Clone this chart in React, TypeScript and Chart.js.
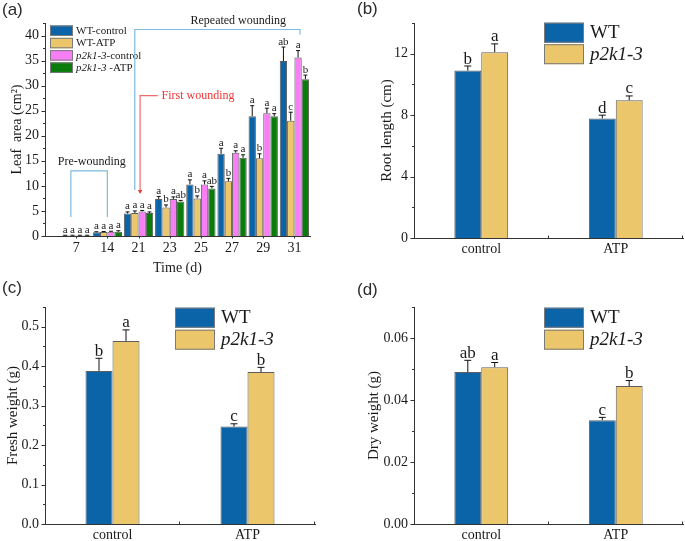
import React, { useEffect, useRef } from 'react';
import { Chart, registerables } from 'chart.js';

Chart.register(...registerables);

const W = 685;
const H = 541;
const SERIF = '"Liberation Serif", "Times New Roman", serif';
const SANS = '"Liberation Sans", Arial, sans-serif';
const INK = '#1a1a1a';
const AXIS = '#333333';
const EDGE = '#5e5e5e';
const BLUE = '#0b63a8';
const YELLOW = '#ecc66a';
const PINK = '#f77ef5';
const GREEN = '#0a7c0c';
const BRACKET = '#7dbbe0';
const RED = '#ee3636';

// ---- Panel (a): leaf area over time
const days = ['7', '14', '21', '23', '25', '27', '29', '31'];
const namesA = ['WT-control', 'WT-ATP', 'p2k1-3-control', 'p2k1-3 -ATP'];
const wtControlArea = [0.1, 0.75, 4.5, 7.4, 10.3, 16.4, 23.9, 34.9];
const wtControlAreaErr = [0.05, 0.1, 0.3, 0.5, 0.9, 1.1, 2.1, 2.8];
const wtControlAreaSig = ['a', 'a', 'a', 'a', 'a', 'a', 'a', 'ab'];
const wtAtpArea = [0.1, 0.8, 4.6, 5.7, 7.5, 10.9, 15.5, 23.0];
const wtAtpAreaErr = [0.05, 0.1, 0.4, 0.5, 0.5, 0.6, 0.9, 1.7];
const wtAtpAreaSig = ['a', 'a', 'a', 'b', 'b', 'b', 'b', 'c'];
const p2ControlArea = [0.1, 0.85, 4.9, 7.4, 10.3, 16.6, 24.5, 35.6];
const p2ControlAreaErr = [0.05, 0.1, 0.2, 0.4, 0.7, 0.4, 1.0, 1.4];
const p2ControlAreaSig = ['a', 'a', 'a', 'a', 'a', 'a', 'a', 'a'];
const p2AtpArea = [0.1, 0.85, 4.6, 6.9, 9.5, 15.6, 23.9, 31.3];
const p2AtpAreaErr = [0.05, 0.2, 0.2, 0.2, 0.4, 0.6, 0.5, 0.8];
const p2AtpAreaSig = ['a', 'a', 'a', 'ab', 'ab', 'a', 'a', 'b'];
const yTicksA = [0, 5, 10, 15, 20, 25, 30, 35, 40];

// ---- Panels (b)-(d)
const treatments = ['control', 'ATP'];
const namesGeno = ['WT', 'p2k1-3'];

const rootWT = [10.9, 7.78];
const rootWTErr = [0.3, 0.22];
const rootWTSig = ['b', 'd'];
const rootP2 = [12.1, 8.97];
const rootP2Err = [0.54, 0.28];
const rootP2Sig = ['a', 'c'];
const yTicksB = [0, 4, 8, 12];

const freshWT = [0.388, 0.247];
const freshWTErr = [0.032, 0.007];
const freshWTSig = ['b', 'c'];
const freshP2 = [0.464, 0.385];
const freshP2Err = [0.028, 0.012];
const freshP2Sig = ['a', 'b'];
const yTicksC = [0, 0.1, 0.2, 0.3, 0.4, 0.5];

const dryWT = [0.049, 0.0335];
const dryWTErr = [0.0038, 0.0009];
const dryWTSig = ['ab', 'c'];
const dryP2 = [0.0506, 0.0445];
const dryP2Err = [0.0015, 0.0018];
const dryP2Sig = ['a', 'b'];
const yTicksD = [0, 0.02, 0.04, 0.06];

type Series = { name: string; data: number[]; err: number[]; sig: string[]; color: string };
type Panel = {
  tag: string;
  tagX: number;
  tagY: number;
  area: { l: number; t: number; r: number; b: number };
  linear: boolean;
  cats: string[];
  series: Series[];
  yMax: number;
  yTicks: number[];
  yMinor: number;
  yDec: number;
  yTitle: string;
  yTitleX: number;
  xTitle?: string;
  tickSize: number;
  titleSize: number;
  sigSize: number;
  cap: number;
  catPct: number;
  xPad: number;
  legend: { x: number; y: number; w: number; h: number; pitch: number; size: number };
  extra?: (c: Chart) => void;
};

function drawLabel(ctx: CanvasRenderingContext2D, text: string, x: number, y: number, size: number) {
  const it = 'p2k1-3';
  let rest = text;
  let cx = x;
  if (text.startsWith(it)) {
    ctx.font = `italic ${size}px ${SERIF}`;
    ctx.fillText(it, cx, y);
    cx += ctx.measureText(it).width;
    rest = text.slice(it.length);
  }
  if (rest) {
    ctx.font = `${size}px ${SERIF}`;
    ctx.fillText(rest, cx, y);
  }
}

function woundingNotes(chart: Chart) {
  const ctx = chart.ctx;
  const xs: any = chart.scales.x;
  const ys: any = chart.scales.y;
  const X = (v: number) => xs.getPixelForValue(v);
  const Y = (v: number) => ys.getPixelForValue(v);
  ctx.save();
  ctx.lineWidth = 1.2;
  ctx.strokeStyle = BRACKET;
  ctx.beginPath();
  ctx.moveTo(X(-0.17), Y(3.8));
  ctx.lineTo(X(-0.17), Y(13));
  ctx.lineTo(X(1.0), Y(13));
  ctx.lineTo(X(1.0), Y(3.8));
  ctx.stroke();
  ctx.beginPath();
  ctx.moveTo(X(1.88), Y(9.2));
  ctx.lineTo(X(1.88), Y(41.2));
  ctx.lineTo(X(7.18), Y(41.2));
  ctx.lineTo(X(7.18), Y(40.2));
  ctx.stroke();
  // red arrow
  ctx.strokeStyle = '#f26a6a';
  ctx.beginPath();
  ctx.moveTo(X(2.62), Y(28));
  ctx.lineTo(X(2.05), Y(28));
  ctx.lineTo(X(2.05), Y(9.0));
  ctx.stroke();
  ctx.fillStyle = RED;
  const ax = X(2.05);
  const ay = Y(8.4);
  ctx.beginPath();
  ctx.moveTo(ax - 2.2, ay - 4);
  ctx.lineTo(ax + 2.2, ay - 4);
  ctx.lineTo(ax, ay);
  ctx.closePath();
  ctx.fill();
  ctx.font = `12px ${SERIF}`;
  ctx.textAlign = 'left';
  ctx.textBaseline = 'middle';
  ctx.fillText('First wounding', X(2.74), Y(28));
  ctx.fillStyle = INK;
  ctx.textAlign = 'center';
  ctx.fillText('Pre-wounding', X(0.5), Y(14.8));
  ctx.fillText('Repeated wounding', X(5.2), Y(42.9));
  ctx.restore();
}

const panelDecor = {
  id: 'panelDecor',
  afterDatasetsDraw(chart: Chart, _args: any, opts: any) {
    const p: Panel = opts.panel;
    if (!p) return;
    const ctx = chart.ctx;
    const ys: any = chart.scales.y;
    const xs: any = chart.scales.x;
    const area = chart.chartArea;
    ctx.save();
    // error bars and significance letters
    p.series.forEach((s, i) => {
      const meta = chart.getDatasetMeta(i);
      meta.data.forEach((el: any, j: number) => {
        const x = el.x;
        const yb = el.y;
        const yt = ys.getPixelForValue(s.data[j] + s.err[j]);
        ctx.strokeStyle = '#111';
        ctx.lineWidth = 1;
        ctx.beginPath();
        ctx.moveTo(x, yb);
        ctx.lineTo(x, yt);
        ctx.moveTo(x - p.cap, yt);
        ctx.lineTo(x + p.cap, yt);
        ctx.stroke();
        ctx.fillStyle = INK;
        ctx.font = `${p.sigSize}px ${SERIF}`;
        ctx.textAlign = 'center';
        ctx.textBaseline = 'alphabetic';
        ctx.fillText(s.sig[j], x, yt - 2.5);
      });
    });
    // y tick marks (major and minor, outward)
    ctx.strokeStyle = AXIS;
    ctx.lineWidth = 1;
    const n = Math.round(p.yMax / p.yMinor + 1e-6);
    for (let k = 0; k <= n; k++) {
      const v = k * p.yMinor;
      const isMajor = p.yTicks.some((t) => Math.abs(t - v) < 1e-9);
      const py = Math.round(ys.getPixelForValue(v)) + 0.5;
      ctx.beginPath();
      ctx.moveTo(area.left, py);
      ctx.lineTo(area.left - (isMajor ? 3.5 : 2), py);
      ctx.stroke();
    }
    // x small ticks at category borders
    if (!p.linear) {
      const step = (area.right - area.left) / p.cats.length;
      for (let k = 1; k <= p.cats.length; k++) {
        const px = Math.round(area.left + k * step) - 0.5;
        ctx.beginPath();
        ctx.moveTo(px, area.bottom);
        ctx.lineTo(px, area.bottom - 2.5);
        ctx.stroke();
      }
    } else {
      for (let k = 0; k < p.cats.length; k++) {
        const px = Math.round(xs.getPixelForValue(k)) + 0.5;
        ctx.beginPath();
        ctx.moveTo(px, area.bottom);
        ctx.lineTo(px, area.bottom + 2.5);
        ctx.stroke();
      }
    }
    // legend
    const L = p.legend;
    p.series.forEach((s, i) => {
      const top = L.y + i * L.pitch;
      ctx.fillStyle = s.color;
      ctx.fillRect(L.x, top, L.w, L.h);
      ctx.strokeStyle = '#7a7a7a';
      ctx.lineWidth = 1;
      ctx.strokeRect(L.x + 0.5, top + 0.5, L.w - 1, L.h - 1);
      ctx.fillStyle = INK;
      ctx.textAlign = 'left';
      ctx.textBaseline = 'middle';
      drawLabel(ctx, s.name, L.x + L.w + (L.size > 14 ? 6 : 3), top + L.h / 2 + 0.5, L.size);
    });
    // y title
    ctx.save();
    ctx.translate(p.yTitleX, (area.top + area.bottom) / 2);
    ctx.rotate(-Math.PI / 2);
    ctx.fillStyle = INK;
    ctx.font = `${p.titleSize}px ${SERIF}`;
    ctx.textAlign = 'center';
    ctx.textBaseline = 'middle';
    ctx.fillText(p.yTitle, 0, 0);
    ctx.restore();
    // x title
    if (p.xTitle) {
      ctx.fillStyle = INK;
      ctx.font = `${p.titleSize}px ${SERIF}`;
      ctx.textAlign = 'center';
      ctx.textBaseline = 'middle';
      ctx.fillText(p.xTitle, (area.left + area.right) / 2, area.bottom + 32);
    }
    // panel tag
    ctx.fillStyle = '#2a2a2a';
    ctx.font = `17px ${SANS}`;
    ctx.textAlign = 'left';
    ctx.textBaseline = 'middle';
    ctx.fillText(p.tag, p.tagX, p.tagY);
    if (p.extra) p.extra(chart);
    ctx.restore();
  },
};

function buildChart(canvas: HTMLCanvasElement, p: Panel) {
  const A = p.area;
  const YW = 40;
  const XH = 30;
  const tickFont = { family: SERIF, size: p.tickSize };
  const datasets = p.series.map((s) => ({
    label: s.name,
    data: p.linear ? s.data.map((v, i) => ({ x: i, y: v })) : s.data,
    backgroundColor: s.color,
    borderColor: EDGE,
    borderWidth: 1,
    categoryPercentage: p.catPct,
    barPercentage: 1,
  }));
  const xScale: any = p.linear
    ? {
        type: 'linear',
        offset: false,
        min: -1,
        max: 7.5,
        afterBuildTicks: (s: any) => {
          s.ticks = p.cats.map((_, i) => ({ value: i }));
        },
        ticks: {
          callback: (v: any) => p.cats[v] ?? '',
          font: tickFont,
          color: INK,
          padding: p.xPad,
          autoSkip: false,
          maxRotation: 0,
        },
        grid: { display: false, drawTicks: false },
        border: { display: true, color: AXIS, width: 1 },
        afterFit: (s: any) => {
          s.height = XH;
        },
      }
    : {
        type: 'category',
        offset: true,
        ticks: { font: tickFont, color: INK, padding: p.xPad, maxRotation: 0 },
        grid: { display: false, drawTicks: false },
        border: { display: true, color: AXIS, width: 1 },
        afterFit: (s: any) => {
          s.height = XH;
        },
      };
  return new Chart(canvas, {
    type: 'bar',
    data: { labels: p.linear ? undefined : p.cats, datasets } as any,
    options: {
      animation: false,
      responsive: false,
      devicePixelRatio: 1,
      events: [],
      layout: {
        padding: { left: A.l - YW, top: A.t, right: W - A.r, bottom: H - A.b - XH },
      },
      plugins: {
        legend: { display: false },
        tooltip: { enabled: false },
        panelDecor: { panel: p },
      } as any,
      scales: {
        x: xScale,
        y: {
          type: 'linear',
          min: 0,
          max: p.yMax,
          afterBuildTicks: (s: any) => {
            s.ticks = p.yTicks.map((v) => ({ value: v }));
          },
          ticks: {
            font: tickFont,
            color: INK,
            padding: 6,
            callback: (v: any) => Number(v).toFixed(p.yDec),
          },
          grid: { display: false, drawTicks: false },
          border: { display: true, color: AXIS, width: 1 },
          afterFit: (s: any) => {
            s.width = YW;
          },
        },
      },
    } as any,
    plugins: [panelDecor],
  });
}

const panels: Panel[] = [
  {
    tag: '(a)',
    tagX: 2,
    tagY: 10,
    area: { l: 45, t: 23, r: 310, b: 236 },
    linear: true,
    cats: days,
    series: [
      { name: namesA[0], data: wtControlArea, err: wtControlAreaErr, sig: wtControlAreaSig, color: BLUE },
      { name: namesA[1], data: wtAtpArea, err: wtAtpAreaErr, sig: wtAtpAreaSig, color: YELLOW },
      { name: namesA[2], data: p2ControlArea, err: p2ControlAreaErr, sig: p2ControlAreaSig, color: PINK },
      { name: namesA[3], data: p2AtpArea, err: p2AtpAreaErr, sig: p2AtpAreaSig, color: GREEN },
    ],
    yMax: 42.5,
    yTicks: yTicksA,
    yMinor: 2.5,
    yDec: 0,
    yTitle: 'Leaf  area (cm²)',
    yTitleX: 17,
    xTitle: 'Time (d)',
    tickSize: 14,
    titleSize: 14,
    sigSize: 11,
    cap: 2,
    catPct: 0.94,
    xPad: 4,
    legend: { x: 50, y: 25.5, w: 23, h: 10.5, pitch: 12.3, size: 11 },
    extra: woundingNotes,
  },
  {
    tag: '(b)',
    tagX: 357,
    tagY: 9,
    area: { l: 414, t: 23, r: 683, b: 238 },
    linear: false,
    cats: treatments,
    series: [
      { name: namesGeno[0], data: rootWT, err: rootWTErr, sig: rootWTSig, color: BLUE },
      { name: namesGeno[1], data: rootP2, err: rootP2Err, sig: rootP2Sig, color: YELLOW },
    ],
    yMax: 14,
    yTicks: yTicksB,
    yMinor: 2,
    yDec: 0,
    yTitle: 'Root length (cm)',
    yTitleX: 387,
    tickSize: 14,
    titleSize: 15,
    sigSize: 17,
    cap: 3.5,
    catPct: 0.4,
    xPad: 2.5,
    legend: { x: 544, y: 22.7, w: 40, h: 20, pitch: 21.5, size: 19 },
  },
  {
    tag: '(c)',
    tagX: 2,
    tagY: 288,
    area: { l: 45, t: 307, r: 315, b: 524 },
    linear: false,
    cats: treatments,
    series: [
      { name: namesGeno[0], data: freshWT, err: freshWTErr, sig: freshWTSig, color: BLUE },
      { name: namesGeno[1], data: freshP2, err: freshP2Err, sig: freshP2Sig, color: YELLOW },
    ],
    yMax: 0.55,
    yTicks: yTicksC,
    yMinor: 0.05,
    yDec: 1,
    yTitle: 'Fresh weight (g)',
    yTitleX: 13,
    tickSize: 14,
    titleSize: 15,
    sigSize: 17,
    cap: 3.5,
    catPct: 0.4,
    xPad: 3,
    legend: { x: 175, y: 307.7, w: 40, h: 20, pitch: 22, size: 19 },
  },
  {
    tag: '(d)',
    tagX: 357,
    tagY: 290,
    area: { l: 414, t: 307, r: 683, b: 524 },
    linear: false,
    cats: treatments,
    series: [
      { name: namesGeno[0], data: dryWT, err: dryWTErr, sig: dryWTSig, color: BLUE },
      { name: namesGeno[1], data: dryP2, err: dryP2Err, sig: dryP2Sig, color: YELLOW },
    ],
    yMax: 0.07,
    yTicks: yTicksD,
    yMinor: 0.01,
    yDec: 2,
    yTitle: 'Dry weight (g)',
    yTitleX: 374,
    tickSize: 14,
    titleSize: 15,
    sigSize: 17,
    cap: 3.5,
    catPct: 0.4,
    xPad: 3,
    legend: { x: 544, y: 307.7, w: 40, h: 20, pitch: 22, size: 19 },
  },
];

export default function App() {
  const refs = useRef<(HTMLCanvasElement | null)[]>([]);
  useEffect(() => {
    const charts = panels.map((p, i) => buildChart(refs.current[i] as HTMLCanvasElement, p));
    return () => charts.forEach((c) => c.destroy());
  }, []);
  return (
    <div style={{ position: 'absolute', left: 0, top: 0, width: W, height: H, background: '#fff', overflow: 'hidden' }}>
      {panels.map((p, i) => (
        <canvas
          key={p.tag}
          ref={(el) => {
            refs.current[i] = el;
          }}
          width={W}
          height={H}
          style={{ position: 'absolute', left: 0, top: 0, width: W, height: H }}
        />
      ))}
    </div>
  );
}
